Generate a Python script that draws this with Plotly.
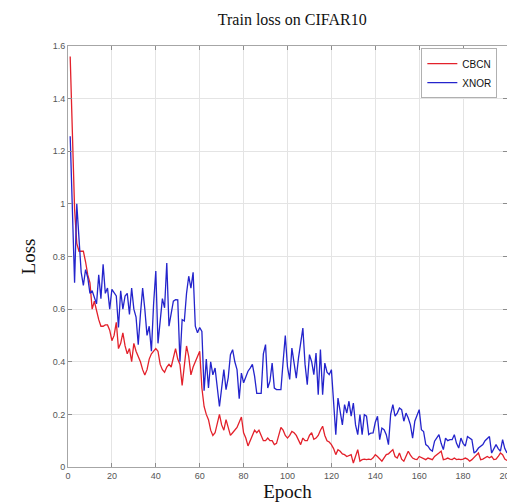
import plotly.graph_objects as go

# CBCN train loss per epoch (epochs 1..200)
cbcn = [
    1.56, 1.25, 0.98, 0.85, 0.82, 0.82, 0.82, 0.78, 0.73, 0.70,
    0.60, 0.63, 0.59, 0.56, 0.535, 0.535, 0.54, 0.54, 0.52, 0.48,
    0.50, 0.55, 0.45, 0.47, 0.51, 0.46, 0.43, 0.45, 0.40, 0.47,
    0.44, 0.42, 0.40, 0.37, 0.35, 0.37, 0.41, 0.43, 0.44, 0.45,
    0.44, 0.39, 0.37, 0.36, 0.38, 0.39, 0.38, 0.42, 0.45, 0.41,
    0.39, 0.31, 0.38, 0.46, 0.42, 0.35, 0.38, 0.40, 0.42, 0.44,
    0.30, 0.23, 0.20, 0.18, 0.14, 0.12, 0.13, 0.16, 0.20, 0.16,
    0.14, 0.18, 0.15, 0.12, 0.13, 0.14, 0.15, 0.17, 0.19, 0.13,
    0.11, 0.08, 0.10, 0.12, 0.14, 0.13, 0.14, 0.12, 0.10, 0.10,
    0.11, 0.10, 0.10, 0.085, 0.09, 0.12, 0.15, 0.14, 0.12, 0.11,
    0.12, 0.135, 0.13, 0.12, 0.10, 0.085, 0.11, 0.10, 0.10, 0.12,
    0.13, 0.105, 0.11, 0.12, 0.14, 0.155, 0.12, 0.10, 0.095, 0.085,
    0.07, 0.047, 0.066, 0.06, 0.05, 0.047, 0.04, 0.045, 0.047, 0.015,
    0.04, 0.066, 0.022, 0.028, 0.03, 0.028, 0.03, 0.028, 0.035, 0.047,
    0.04, 0.03, 0.022, 0.035, 0.047, 0.05, 0.06, 0.066, 0.04, 0.034,
    0.053, 0.03, 0.022, 0.04, 0.06, 0.045, 0.034, 0.03, 0.028, 0.04,
    0.035, 0.03, 0.028, 0.034, 0.03, 0.028, 0.04, 0.045, 0.053, 0.06,
    0.028, 0.03, 0.034, 0.03, 0.028, 0.034, 0.028, 0.03, 0.028, 0.03,
    0.034, 0.03, 0.022, 0.028, 0.035, 0.045, 0.053, 0.028, 0.03, 0.035,
    0.04, 0.035, 0.04, 0.028, 0.03, 0.04, 0.053, 0.047, 0.03, 0.025,
]

# XNOR train loss per epoch (epochs 1..200)
xnor = [
    1.257, 0.98, 0.70, 1.0, 0.86, 0.74, 0.69, 0.75, 0.72, 0.66,
    0.67, 0.64, 0.62, 0.73, 0.64, 0.77, 0.66, 0.68, 0.60, 0.675,
    0.66, 0.65, 0.53, 0.67, 0.60, 0.65, 0.66, 0.58, 0.68, 0.60,
    0.57, 0.465, 0.58, 0.68, 0.60, 0.50, 0.535, 0.44, 0.62, 0.745,
    0.47, 0.55, 0.64, 0.605, 0.775, 0.535, 0.58, 0.63, 0.636, 0.635,
    0.40, 0.56, 0.555, 0.66, 0.725, 0.68, 0.74, 0.535, 0.51, 0.53,
    0.515, 0.29, 0.41, 0.30, 0.40, 0.35, 0.376, 0.30, 0.23, 0.30,
    0.37, 0.294, 0.34, 0.427, 0.446, 0.40, 0.37, 0.26, 0.357, 0.32,
    0.345, 0.364, 0.376, 0.39, 0.345, 0.28, 0.28, 0.28, 0.43, 0.465,
    0.30, 0.326, 0.395, 0.30, 0.294, 0.294, 0.294, 0.40, 0.50, 0.38,
    0.333, 0.452, 0.40, 0.338, 0.414, 0.47, 0.528, 0.39, 0.313, 0.427,
    0.40, 0.351, 0.433, 0.275, 0.446, 0.275, 0.395, 0.36, 0.351, 0.37,
    0.262, 0.123, 0.262, 0.218, 0.16, 0.237, 0.205, 0.25, 0.193, 0.243,
    0.16, 0.123, 0.199, 0.123, 0.199, 0.193, 0.123, 0.129, 0.13, 0.17,
    0.193, 0.104, 0.148, 0.142, 0.123, 0.085, 0.20, 0.237, 0.193, 0.205,
    0.224, 0.218, 0.174, 0.205, 0.186, 0.16, 0.11, 0.174, 0.20, 0.218,
    0.142, 0.135, 0.085, 0.079, 0.066, 0.06, 0.098, 0.11, 0.123, 0.09,
    0.066, 0.11, 0.10, 0.104, 0.104, 0.123, 0.09, 0.072, 0.11, 0.09,
    0.079, 0.116, 0.11, 0.104, 0.053, 0.06, 0.072, 0.08, 0.085, 0.10,
    0.11, 0.116, 0.053, 0.07, 0.085, 0.07, 0.06, 0.104, 0.07, 0.053,
]

epochs_cbcn = list(range(1, len(cbcn) + 1))
epochs_xnor = list(range(1, len(xnor) + 1))

x_ticks = [0, 20, 40, 60, 80, 100, 120, 140, 160, 180, 200]
y_ticks = [0, 0.2, 0.4, 0.6, 0.8, 1.0, 1.2, 1.4, 1.6]
y_tick_labels = ["0", "0.2", "0.4", "0.6", "0.8", "1", "1.2", "1.4", "1.6"]

fig = go.Figure()
fig.add_trace(go.Scatter(x=epochs_cbcn, y=cbcn, mode="lines", name="CBCN",
                         line=dict(color="#e3212b", width=1.3)))
fig.add_trace(go.Scatter(x=epochs_xnor, y=xnor, mode="lines", name="XNOR",
                         line=dict(color="#2424cc", width=1.3)))

axis_common = dict(
    showgrid=True, gridcolor="#e4e4e4", gridwidth=1,
    showline=True, linecolor="#a6a6a6", linewidth=1, mirror="ticks",
    ticks="inside", ticklen=4, tickcolor="#8c8c8c",
    tickfont=dict(family="Liberation Sans, Arial", size=9, color="#555555"),
    zeroline=False,
)

fig.update_layout(
    width=515, height=503,
    margin=dict(l=60, r=8, t=38, b=44),
    paper_bgcolor="white", plot_bgcolor="white",
    title=dict(text="Train loss on CIFAR10", x=0.552, xanchor="center",
               y=0.977, yanchor="middle",
               font=dict(family="Liberation Serif, Times New Roman", size=16, color="#111111")),
    xaxis=dict(range=[0, 200], tickvals=x_ticks,
               title=dict(text="Epoch", standoff=4,
                          font=dict(family="Liberation Serif, Times New Roman", size=19, color="#111111")),
               **axis_common),
    yaxis=dict(range=[0, 1.6], tickvals=y_ticks, ticktext=y_tick_labels,
               title=dict(text="Loss", standoff=12,
                          font=dict(family="Liberation Serif, Times New Roman", size=19, color="#111111")),
               **axis_common),
    legend=dict(x=0.978, y=0.995, xanchor="right", yanchor="top",
                bgcolor="white", bordercolor="#b0b0b0", borderwidth=1,
                font=dict(family="Liberation Sans, Arial", size=10, color="#111111"),
                tracegroupgap=0, itemwidth=30),
    showlegend=True,
)

fig.write_html("out.html")
